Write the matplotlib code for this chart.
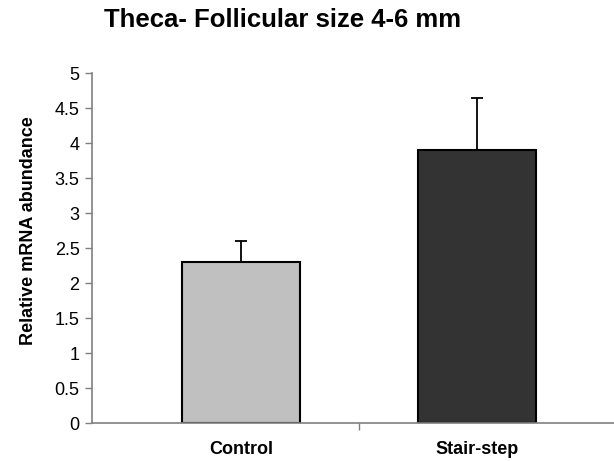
import numpy as np
import matplotlib.pyplot as plt

plt.rcParams['font.family'] = ['Liberation Sans', 'DejaVu Sans']

groups = ["Control", "Stair-step"]
means = [2.3, 3.9]
errors = [0.3, 0.75]
colors = ["#c0c0c0", "#333333"]

fig = plt.figure(figsize=(6.14, 4.61), dpi=100)
ax = fig.add_axes([0.150, 0.0824, 0.850, 0.7592])

x = np.arange(len(groups))
ax.bar(x, means, width=0.5, color=colors, edgecolor="black", linewidth=1.5,
       zorder=2)
ax.errorbar(x, means, yerr=[np.zeros(len(errors)), errors], fmt="none",
            ecolor="black", elinewidth=1.3, capsize=4.5, capthick=1.3, zorder=3)

ax.set_xlim(-0.63, 1.58)
ax.set_ylim(0, 5)
ax.set_yticks(np.arange(0, 5.01, 0.5))
ax.set_yticklabels(["0", "0.5", "1", "1.5", "2", "2.5", "3", "3.5", "4", "4.5", "5"])
ax.set_xticks(x)
ax.set_xticklabels(groups, fontweight="bold", fontsize=13)
ax.tick_params(axis="x", length=0, pad=13)
ax.set_xticks([0.5], minor=True)
ax.tick_params(axis="x", which="minor", length=5, color="#808080", width=1)
ax.tick_params(axis="y", length=5, color="#808080", width=1, labelsize=13, pad=4)

for side in ["top", "right"]:
    ax.spines[side].set_visible(False)
for side in ["left", "bottom"]:
    ax.spines[side].set_color("#808080")
    ax.spines[side].set_linewidth(1.2)

fig.text(0.461, 0.957, "Theca- Follicular size 4-6 mm", ha="center", va="center",
         fontsize=18.5, fontweight="bold")
fig.text(0.046, 0.50, "Relative mRNA abundance", ha="center", va="center",
         rotation=90, fontsize=13, fontweight="bold")

fig.savefig("out.png", dpi=100)
